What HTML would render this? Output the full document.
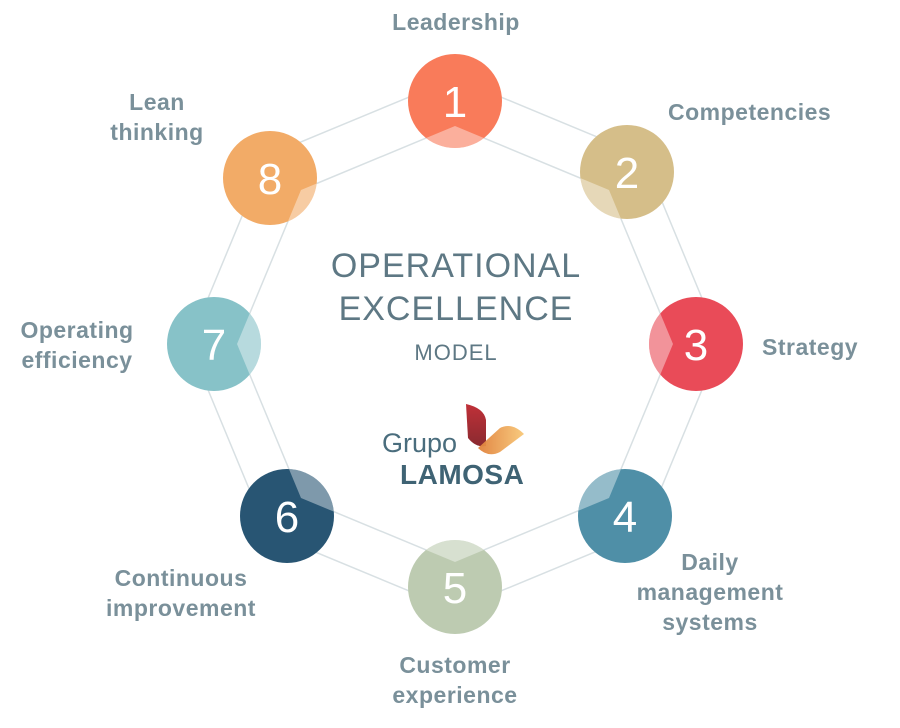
<!DOCTYPE html>
<html><head><meta charset="utf-8"><style>
body{margin:0;background:#fff;width:900px;height:728px;overflow:hidden}
svg{display:block}
.l{font-family:"Liberation Sans",sans-serif;font-size:23px;font-weight:bold;fill:#7a909a;letter-spacing:0.5px}
.n{font-family:"Liberation Sans",sans-serif;font-size:44px;fill:#fff;text-anchor:middle}
.t{font-family:"Liberation Sans",sans-serif;fill:#5e7884;text-anchor:middle}
</style></head><body>
<svg width="900" height="728" viewBox="0 0 900 728">
<defs>
<clipPath id="inner"><polygon points="455,126 609,190 673,344 609,498 455,562 301,498 237,344 301,190"/></clipPath>
<linearGradient id="gr" x1="0" y1="0" x2="1" y2="0"><stop offset="0" stop-color="#e0803a"/><stop offset="1" stop-color="#f8c878"/></linearGradient>
<linearGradient id="rd" x1="0" y1="0" x2="0" y2="1"><stop offset="0" stop-color="#c03038"/><stop offset="1" stop-color="#8a2a30"/></linearGradient>
</defs>
<g fill="none" stroke="#d8e0e3" stroke-width="1.5">
<polygon points="455,78 643,156 721,344 643,532 455,610 267,532 189,344 267,156"/>
<polygon points="455,126 609,190 673,344 609,498 455,562 301,498 237,344 301,190"/>
</g>
<g>
<circle cx="455" cy="101" r="47" fill="#f97b5a"/>
<circle cx="627" cy="172" r="47" fill="#d5be89"/>
<circle cx="696" cy="344" r="47" fill="#e94b58"/>
<circle cx="625" cy="516" r="47" fill="#4f8fa7"/>
<circle cx="455" cy="587" r="47" fill="#bdcbb1"/>
<circle cx="287" cy="516" r="47" fill="#285573"/>
<circle cx="214" cy="344" r="47" fill="#87c2c8"/>
<circle cx="270" cy="178" r="47" fill="#f2ab67"/>
</g>
<g clip-path="url(#inner)" fill="#fff" opacity="0.4">
<circle cx="455" cy="101" r="47"/><circle cx="627" cy="172" r="47"/><circle cx="696" cy="344" r="47"/><circle cx="625" cy="516" r="47"/><circle cx="455" cy="587" r="47"/><circle cx="287" cy="516" r="47"/><circle cx="214" cy="344" r="47"/><circle cx="270" cy="178" r="47"/>
</g>
<g class="n">
<text x="455" y="117">1</text><text x="627" y="188">2</text><text x="696" y="360">3</text><text x="625" y="532">4</text><text x="455" y="603">5</text><text x="287" y="532">6</text><text x="214" y="360">7</text><text x="270" y="194">8</text>
</g>
<g class="l">
<text x="456" y="30" text-anchor="middle">Leadership</text>
<text x="668" y="120">Competencies</text>
<text x="762" y="355">Strategy</text>
<text x="710" y="570" text-anchor="middle">Daily</text>
<text x="710" y="600" text-anchor="middle">management</text>
<text x="710" y="630" text-anchor="middle">systems</text>
<text x="455" y="673" text-anchor="middle">Customer</text>
<text x="455" y="703" text-anchor="middle">experience</text>
<text x="181" y="586" text-anchor="middle">Continuous</text>
<text x="181" y="616" text-anchor="middle">improvement</text>
<text x="77" y="338" text-anchor="middle">Operating</text>
<text x="77" y="368" text-anchor="middle">efficiency</text>
<text x="157" y="110" text-anchor="middle">Lean</text>
<text x="157" y="140" text-anchor="middle">thinking</text>
</g>
<text class="t" x="456" y="277" font-size="34" letter-spacing="1">OPERATIONAL</text>
<text class="t" x="456" y="320" font-size="34" letter-spacing="1">EXCELLENCE</text>
<text class="t" x="456" y="360" font-size="22" letter-spacing="1">MODEL</text>
<path d="M466,404 Q484,408 486,420 L486,446 Q476,448 468,438 Z" fill="url(#rd)"/>
<path d="M478,448 L500,428 Q512,422 524,434 L500,452 Q488,458 478,448 Z" fill="url(#gr)" opacity="0.95"/>
<text x="382" y="452" font-family="Liberation Sans,sans-serif" font-size="27" fill="#4a6d7d">Grupo</text>
<text x="400" y="484" font-family="Liberation Sans,sans-serif" font-size="28" font-weight="bold" fill="#3f6374" letter-spacing="0.5">LAMOSA</text>
</svg>
</body></html>
